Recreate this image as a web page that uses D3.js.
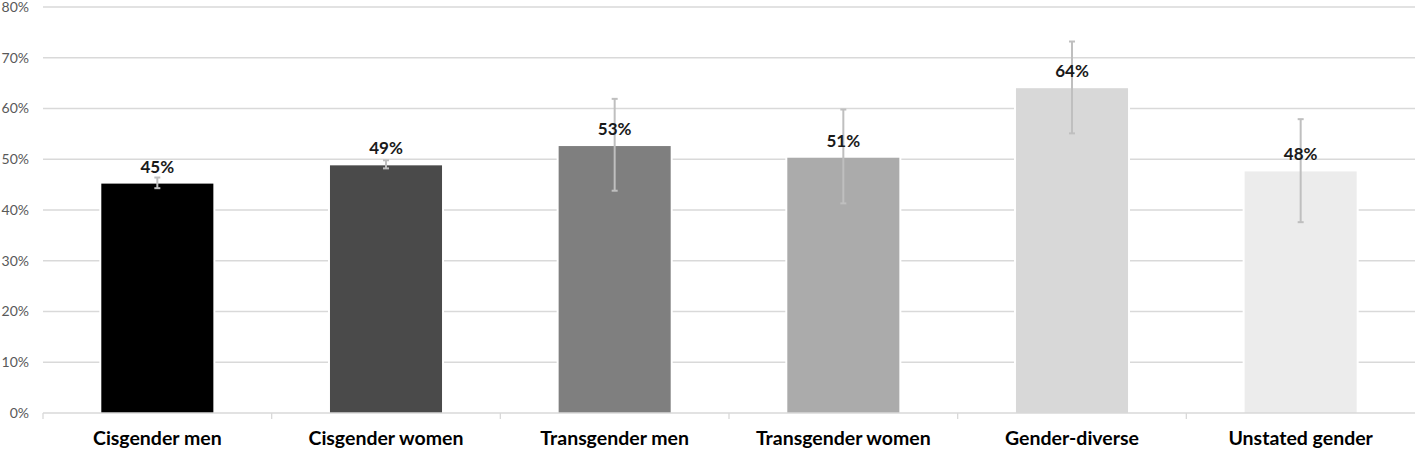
<!DOCTYPE html>
<html><head><meta charset="utf-8">
<script src="https://cdn.jsdelivr.net/npm/d3@7"></script>
<style>
html,body{margin:0;padding:0;background:#fff;}
svg{display:block;}
</style></head>
<body>
<script>
const categories = ["Cisgender men","Cisgender women","Transgender men","Transgender women","Gender-diverse","Unstated gender"];
const values = [45.2, 48.8, 52.6, 50.3, 64.0, 47.6];
const labels = ["45%","49%","53%","51%","64%","48%"];
const errLow = [44.3, 48.2, 43.8, 41.3, 55.1, 37.6];
const errHigh = [46.4, 49.8, 61.9, 59.8, 73.2, 57.9];
const colors = ["#000000","#4a4a4a","#7f7f7f","#ababab","#d8d8d8","#ececec"];
const yTicks = [0,10,20,30,40,50,60,70,80];

const W = 1415, H = 452;
const m = {left:43, right:0, top:7, bottom:39};
const svg = d3.select("body").append("svg").attr("width",W).attr("height",H);

const x = d3.scaleBand().domain(categories).range([m.left, W - m.right]).paddingInner(0.51).paddingOuter(0.255);
const xb = d3.scaleBand().domain(categories).range([m.left, W - m.right]);
const y = d3.scaleLinear().domain([0,80]).range([H - m.bottom, m.top]);

// gridlines
svg.append("g").selectAll("line").data(yTicks.filter(d=>d>0)).join("line")
  .attr("x1", m.left).attr("x2", W - m.right)
  .attr("y1", d=>y(d)).attr("y2", d=>y(d))
  .attr("stroke","#d9d9d9").attr("stroke-width",1.3);

// y axis labels
const yAxis = d3.axisLeft(y).tickValues(yTicks).tickFormat(d=>d+"%").tickSize(0).tickPadding(14);
const ya = svg.append("g").attr("transform",`translate(${m.left},0)`).call(yAxis);
ya.select(".domain").remove();
ya.selectAll("text").attr("font-family","Lato, 'Open Sans', sans-serif").attr("font-size",14).attr("fill","#595959");

// bar backgrounds (white gap around bars)
svg.append("g").selectAll("rect").data(categories).join("rect")
  .attr("x", d=>x(d)-2).attr("width", x.bandwidth()+4)
  .attr("y", (d,i)=>y(values[i])-2).attr("height",(d,i)=>y(0)-y(values[i])+2)
  .attr("fill","#fff");

// bars
svg.append("g").selectAll("rect").data(categories).join("rect")
  .attr("x", d=>x(d)).attr("width", x.bandwidth())
  .attr("y", (d,i)=>y(values[i])).attr("height",(d,i)=>y(0)-y(values[i]))
  .attr("fill",(d,i)=>colors[i]);

// x axis
const xAxis = d3.axisBottom(xb).tickSize(0).tickPadding(20);
const xa = svg.append("g").attr("transform",`translate(0,${y(0)})`).call(xAxis);
xa.select(".domain").attr("stroke","#d9d9d9").attr("stroke-width",1.3).attr("d",`M${m.left},0H${W-m.right}`);
xa.selectAll("text").attr("font-family","Lato, 'Open Sans', sans-serif").attr("font-weight","bold").attr("font-size",19.5).attr("fill","#000").attr("dy","0.6em");
// boundary ticks
svg.append("g").selectAll("line").data(categories).join("line")
  .attr("x1", d=>xb(d)).attr("x2", d=>xb(d))
  .attr("y1", y(0)).attr("y2", y(0)+6)
  .attr("stroke","#d9d9d9").attr("stroke-width",1.3);

// error bars
const eb = svg.append("g").attr("stroke","#bfbfbf").attr("stroke-width",2);
categories.forEach((c,i)=>{
  const cx = x(c) + x.bandwidth()/2;
  eb.append("line").attr("x1",cx).attr("x2",cx).attr("y1",y(errLow[i])).attr("y2",y(errHigh[i]));
  eb.append("line").attr("x1",cx-3).attr("x2",cx+3).attr("y1",y(errLow[i])).attr("y2",y(errLow[i]));
  eb.append("line").attr("x1",cx-3).attr("x2",cx+3).attr("y1",y(errHigh[i])).attr("y2",y(errHigh[i]));
});

// value labels
svg.append("g").selectAll("text").data(categories).join("text")
  .attr("x", d=>x(d)+x.bandwidth()/2).attr("y",(d,i)=>y(values[i])-11)
  .attr("text-anchor","middle")
  .attr("font-family","Lato, 'Open Sans', sans-serif").attr("font-weight","bold").attr("font-size",17).attr("fill","#1a1a1a")
  .text((d,i)=>labels[i]);
</script>
</body></html>
